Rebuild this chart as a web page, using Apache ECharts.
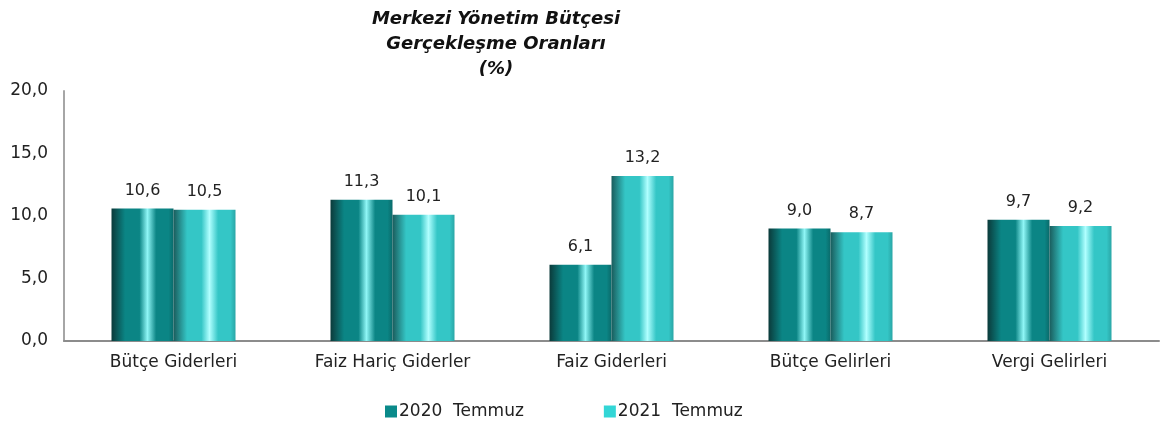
<!DOCTYPE html>
<html>
<head>
    <meta charset="utf-8">
    <script src="https://cdn.jsdelivr.net/npm/echarts@6/dist/echarts.min.js"></script>
    <style>
        html, body { margin: 0; padding: 0; background: #fff; }
        #main { width: 1171px; height: 427px; }
    </style>
</head>
<body>
<div id="main"></div>
<script>
    // veriler
    var categories = ['Bütçe Giderleri', 'Faiz Hariç Giderler', 'Faiz Giderleri', 'Bütçe Gelirleri', 'Vergi Gelirleri'];
    var seriesNames = ['2020  Temmuz', '2021  Temmuz'];
    var values2020 = [10.6, 11.3, 6.1, 9.0, 9.7];
    var values2021 = [10.5, 10.1, 13.2, 8.7, 9.2];
    var yTicks = [0, 5, 10, 15, 20];

    var font = 'DejaVu Sans';

    // silindir görünümü için yatay gradyan
    function cyl(dark, mid, light, edge) {
        return new echarts.graphic.LinearGradient(0, 0, 1, 0, [
            { offset: 0, color: dark },
            { offset: 0.22, color: mid },
            { offset: 0.45, color: mid },
            { offset: 0.58, color: light },
            { offset: 0.72, color: mid },
            { offset: 0.92, color: mid },
            { offset: 1, color: edge }
        ]);
    }

    function labelFmt(p) {
        return p.value.toFixed(1).replace('.', ',');
    }

    var myChart = echarts.init(document.getElementById('main'));
    var option = {
        title: {
            text: 'Merkezi Yönetim Bütçesi\nGerçekleşme Oranları\n(%)',
            left: 491,
            textAlign: 'center',
            top: 2,
            textStyle: {
                fontFamily: font,
                fontSize: 18,
                fontWeight: 'bold',
                fontStyle: 'italic',
                lineHeight: 25,
                color: '#111'
            }
        },
        legend: {
            bottom: 2,
            left: 380,
            itemGap: 80,
            itemWidth: 12,
            itemHeight: 12,
            icon: 'rect',
            textStyle: { fontFamily: font, fontSize: 17, color: '#222', padding: [0, 0, 0, -3] },
            data: [
                { name: seriesNames[0], itemStyle: { color: '#0a8a8a' } },
                { name: seriesNames[1], itemStyle: { color: '#33d6d6' } }
            ]
        },
        grid: { left: 64, right: 12, top: 91, bottom: 86 },
        xAxis: {
            type: 'category',
            data: categories,
            axisLine: { lineStyle: { color: '#8c8c8c', width: 2 } },
            axisTick: { show: false },
            axisLabel: { fontFamily: font, fontSize: 17, color: '#222', margin: 13 }
        },
        yAxis: {
            type: 'value',
            min: yTicks[0],
            max: yTicks[yTicks.length - 1],
            interval: 5,
            axisLine: { show: true, lineStyle: { color: '#a6a6a6', width: 2 } },
            axisTick: { show: false },
            splitLine: { show: false },
            axisLabel: {
                fontFamily: font, fontSize: 17, color: '#222', margin: 16,
                formatter: function (v) { return v.toFixed(1).replace('.', ','); }
            }
        },
        series: [
            {
                name: seriesNames[0],
                type: 'bar',
                data: values2020,
                barWidth: 62,
                barGap: '0%',
                itemStyle: { color: cyl('#0b3a3a', '#0b8585', '#8ff6f6', '#0a6a6a') },
                label: {
                    show: true, position: 'top', distance: 10,
                    fontFamily: font, fontSize: 16, color: '#222',
                    formatter: labelFmt
                }
            },
            {
                name: seriesNames[1],
                type: 'bar',
                data: values2021,
                barWidth: 62,
                itemStyle: { color: cyl('#1a5c5c', '#34c6c6', '#b0ffff', '#2aa6a6') },
                label: {
                    show: true, position: 'top', distance: 10,
                    fontFamily: font, fontSize: 16, color: '#222',
                    formatter: labelFmt
                }
            }
        ]
    };
    myChart.setOption(option);
</script>
</body>
</html>
